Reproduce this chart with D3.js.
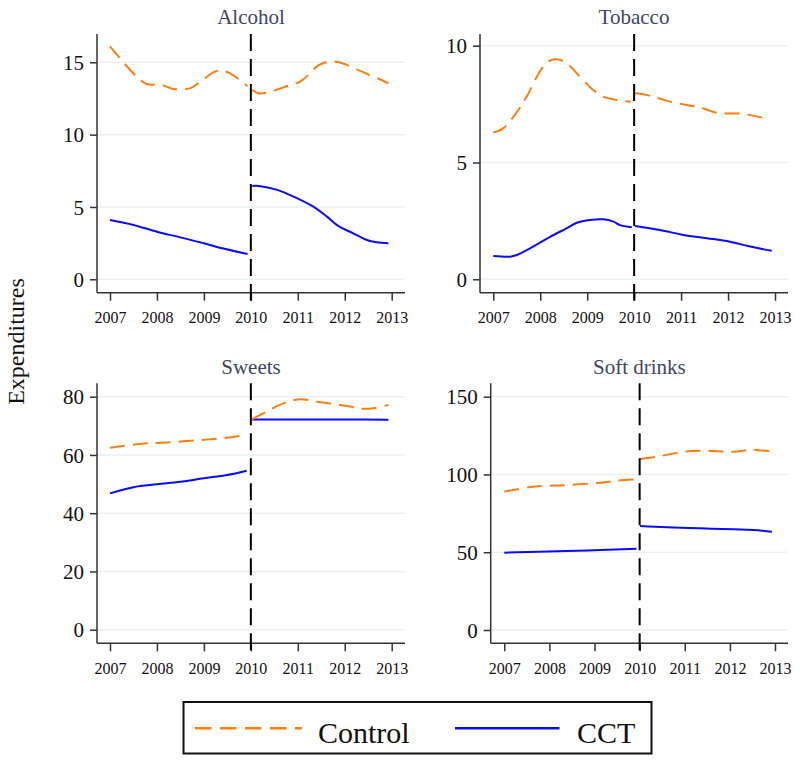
<!DOCTYPE html>
<html>
<head>
<meta charset="utf-8">
<script src="https://cdn.jsdelivr.net/npm/d3@7"></script>
<style>
  html, body { margin: 0; padding: 0; background: #ffffff; }
  svg { display: block; }
</style>
</head>
<body>
<svg id="chart" width="800" height="764"></svg>
<script>
// ---------------- DATA ----------------
const panelTitles = ["Alcohol", "Tobacco", "Sweets", "Soft drinks"];
const xTickYears = [2007, 2008, 2009, 2010, 2011, 2012, 2013];
const cutoffYear = 2010;
const seriesNames = ["Control", "CCT"];

const alcoholTicks = [0, 5, 10, 15];
const tobaccoTicks = [0, 5, 10];
const sweetsTicks = [0, 20, 40, 60, 80];
const softTicks = [0, 50, 100, 150];

// [year, value]
const alcoholControlPre = [[2007.0,16.1],[2007.57,14.0],[2007.78,13.5],[2008.1,13.43],[2008.35,13.16],[2008.7,13.2],[2008.98,13.8],[2009.2,14.3],[2009.34,14.43],[2009.55,14.25],[2009.75,13.8],[2009.93,13.35]];
const alcoholControlPost = [[2010.03,13.1],[2010.16,12.86],[2010.4,12.95],[2010.7,13.28],[2011.05,13.67],[2011.25,14.2],[2011.4,14.7],[2011.6,15.0],[2011.76,15.05],[2011.9,14.98],[2012.2,14.6],[2012.47,14.2],[2012.7,13.9],[2012.93,13.55]];
const alcoholCCTPre = [[2007.0,4.1],[2007.5,3.76],[2008.0,3.29],[2008.5,2.9],[2009.0,2.49],[2009.39,2.14],[2009.93,1.75]];
const alcoholCCTPost = [[2010.03,6.45],[2010.17,6.45],[2010.56,6.18],[2010.91,5.71],[2011.33,5.02],[2011.62,4.33],[2011.86,3.69],[2012.18,3.18],[2012.47,2.72],[2012.68,2.56],[2012.93,2.49]];

const tobaccoControlPre = [[2007.0,6.28],[2007.21,6.46],[2007.43,6.96],[2007.71,7.82],[2007.99,8.89],[2008.17,9.32],[2008.35,9.42],[2008.56,9.25],[2008.85,8.67],[2009.13,8.1],[2009.34,7.82],[2009.63,7.68],[2009.93,7.6]];
const tobaccoControlPost = [[2010.02,7.96],[2010.27,7.89],[2010.69,7.65],[2011.12,7.46],[2011.4,7.36],[2011.76,7.13],[2012.11,7.1],[2012.32,7.08],[2012.89,6.85]];
const tobaccoCCTPre = [[2007.0,1.0],[2007.36,0.97],[2007.5,1.04],[2007.85,1.4],[2008.21,1.82],[2008.56,2.18],[2008.78,2.42],[2009.06,2.54],[2009.34,2.57],[2009.56,2.47],[2009.7,2.32],[2009.95,2.23]];
const tobaccoCCTPost = [[2010.02,2.28],[2010.55,2.11],[2011.05,1.9],[2011.55,1.76],[2012.04,1.61],[2012.47,1.4],[2012.93,1.22]];

const sweetsControlPre = [[2007.0,62.5],[2007.64,63.8],[2008.21,64.3],[2008.92,65.1],[2009.49,65.9],[2009.91,66.85]];
const sweetsControlPost = [[2010.02,72.2],[2010.34,74.9],[2010.69,77.7],[2011.05,79.1],[2011.4,78.3],[2011.76,77.5],[2012.11,76.6],[2012.33,75.9],[2012.61,76.0],[2012.93,77.2]];
const sweetsCCTPre = [[2007.0,46.8],[2007.5,48.9],[2008.0,49.9],[2008.5,50.8],[2009.0,52.0],[2009.49,53.1],[2009.91,54.6]];
const sweetsCCTPost = [[2010.02,72.2],[2011.0,72.2],[2012.0,72.2],[2012.93,72.1]];

const softControlPre = [[2007.0,88.9],[2007.64,92.1],[2008.38,93.2],[2009.12,94.7],[2009.49,96.0],[2009.93,96.8]];
const softControlPost = [[2010.01,109.9],[2010.45,111.8],[2010.97,114.6],[2011.34,115.2],[2011.71,115.0],[2012.08,114.6],[2012.45,115.7],[2012.89,115.0]];
const softCCTPre = [[2007.0,49.7],[2008.38,50.8],[2009.12,51.4],[2009.93,52.3]];
const softCCTPost = [[2010.01,66.8],[2010.6,66.0],[2011.34,65.4],[2012.08,64.7],[2012.52,64.3],[2012.93,63.2]];

// ---------------- LAYOUT ----------------
const FONT = "'Liberation Serif', 'Times New Roman', serif";
const ORANGE = "#ff7f0e";
const BLUE = "#0a0aff";
const GRID = "#e9f1f3";
const AXIS = "#333333";
const TITLE = "#3c4766";

const panels = [
  { title: panelTitles[0], ticks: alcoholTicks,
    control: [alcoholControlPre, alcoholControlPost], cct: [alcoholCCTPre, alcoholCCTPost],
    left: 97, right: 405, top: 34, bottom: 292.7, x0: 110, x1: 391.7,
    yDom: [0, 15], yRange: [279.3, 62.3], titleY: 24 },
  { title: panelTitles[1], ticks: tobaccoTicks,
    control: [tobaccoControlPre, tobaccoControlPost], cct: [tobaccoCCTPre, tobaccoCCTPost],
    left: 480, right: 788, top: 34, bottom: 292.7, x0: 493.3, x1: 775,
    yDom: [0, 10], yRange: [279.3, 45.7], titleY: 24 },
  { title: panelTitles[2], ticks: sweetsTicks,
    control: [sweetsControlPre, sweetsControlPost], cct: [sweetsCCTPre, sweetsCCTPost],
    left: 97, right: 405, top: 383.3, bottom: 643.3, x0: 110, x1: 391.7,
    yDom: [0, 80], yRange: [629.7, 396.7], titleY: 374 },
  { title: panelTitles[3], ticks: softTicks,
    control: [softControlPre, softControlPost], cct: [softCCTPre, softCCTPost],
    left: 490.7, right: 788, top: 383.3, bottom: 643.3, x0: 504.3, x1: 775,
    yDom: [0, 150], yRange: [630, 396.7], titleY: 374 }
];

const svg = d3.select("#chart");

panels.forEach(p => {
  const x = d3.scaleLinear().domain([xTickYears[0], xTickYears[xTickYears.length - 1]]).range([p.x0, p.x1]);
  const y = d3.scaleLinear().domain(p.yDom).range(p.yRange);
  const g = svg.append("g");

  // gridlines
  g.selectAll("line.grid").data(p.ticks).enter().append("line")
    .attr("x1", p.left).attr("x2", p.right)
    .attr("y1", d => y(d)).attr("y2", d => y(d))
    .attr("stroke", GRID).attr("stroke-width", 1.5);

  // y axis
  const yAxis = d3.axisLeft(y).tickValues(p.ticks).tickSize(7).tickPadding(6).tickFormat(d3.format("d"));
  const ya = g.append("g").attr("transform", `translate(${p.left},0)`).call(yAxis);
  ya.select(".domain").remove();
  ya.selectAll(".tick line").attr("stroke", AXIS).attr("stroke-width", 1.5);
  ya.selectAll(".tick text").attr("font-family", FONT).attr("font-size", 21).attr("fill", "#111").attr("dy", "0.34em");
  g.append("line").attr("x1", p.left).attr("x2", p.left).attr("y1", p.top).attr("y2", p.bottom)
    .attr("stroke", AXIS).attr("stroke-width", 1.5);

  // x axis
  const xAxis = d3.axisBottom(x).tickValues(xTickYears).tickSize(8).tickPadding(11).tickFormat(d3.format("d"));
  const xa = g.append("g").attr("transform", `translate(0,${p.bottom})`).call(xAxis);
  xa.select(".domain").remove();
  xa.selectAll(".tick line").attr("stroke", AXIS).attr("stroke-width", 1.5);
  xa.selectAll(".tick text").attr("font-family", FONT).attr("font-size", 16).attr("fill", "#111");
  g.append("line").attr("x1", p.left).attr("x2", p.right).attr("y1", p.bottom).attr("y2", p.bottom)
    .attr("stroke", AXIS).attr("stroke-width", 1.5);

  // lines
  const line = d3.line().x(d => x(d[0])).y(d => y(d[1])).curve(d3.curveCatmullRom.alpha(0.5));
  p.cct.forEach(seg => {
    g.append("path").datum(seg).attr("d", line)
      .attr("fill", "none").attr("stroke", BLUE).attr("stroke-width", 2);
  });
  p.control.forEach(seg => {
    g.append("path").datum(seg).attr("d", line)
      .attr("fill", "none").attr("stroke", ORANGE).attr("stroke-width", 2)
      .attr("stroke-dasharray", "15,8");
  });

  // cutoff line
  g.append("line").attr("x1", x(cutoffYear)).attr("x2", x(cutoffYear))
    .attr("y1", p.top).attr("y2", p.bottom + 8)
    .attr("stroke", "#000").attr("stroke-width", 2).attr("stroke-dasharray", "17,8");

  // title
  g.append("text").attr("x", (p.left + p.right) / 2).attr("y", p.titleY)
    .attr("text-anchor", "middle").attr("font-family", FONT).attr("font-size", 21)
    .attr("fill", TITLE).text(p.title);
});

// y label
svg.append("text")
  .attr("transform", "translate(24,341.5) rotate(-90)")
  .attr("text-anchor", "middle").attr("font-family", FONT).attr("font-size", 24)
  .attr("fill", "#111").text("Expenditures");

// legend
const lg = svg.append("g");
lg.append("rect").attr("x", 183.5).attr("y", 702).attr("width", 468).attr("height", 51.5)
  .attr("fill", "#fff").attr("stroke", "#111").attr("stroke-width", 2);
lg.append("line").attr("x1", 195).attr("x2", 302).attr("y1", 728.3).attr("y2", 728.3)
  .attr("stroke", ORANGE).attr("stroke-width", 2.5).attr("stroke-dasharray", "16.5,8.5");
lg.append("text").attr("x", 318).attr("y", 743).attr("font-family", FONT).attr("font-size", 30)
  .attr("fill", "#111").text(seriesNames[0]);
lg.append("line").attr("x1", 455).attr("x2", 559.5).attr("y1", 728.3).attr("y2", 728.3)
  .attr("stroke", BLUE).attr("stroke-width", 2.5);
lg.append("text").attr("x", 577).attr("y", 743).attr("font-family", FONT).attr("font-size", 30)
  .attr("fill", "#111").text(seriesNames[1]);
</script>
</body>
</html>
